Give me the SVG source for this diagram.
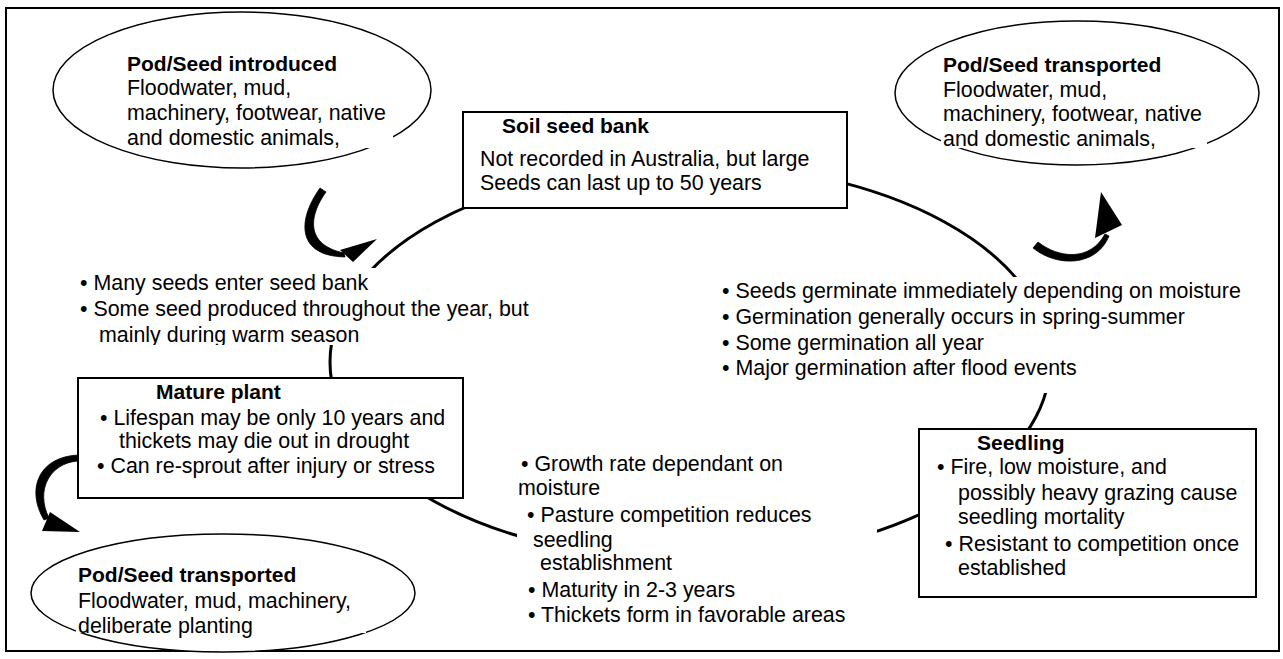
<svg xmlns="http://www.w3.org/2000/svg" width="1283" height="659" viewBox="0 0 1283 659">
<style>
text{font-family:"Liberation Sans",Arial,sans-serif;font-size:21.4px;fill:#000}
.b{font-weight:bold;font-size:21px}
.box{fill:#fff;stroke:#000;stroke-width:2}
.ell{fill:#fff;stroke:#000;stroke-width:1.5}
.mask{fill:#fff;stroke:none}
.cyc{fill:none;stroke:#000;stroke-width:3}
.arr{fill:#000;stroke:#000;stroke-width:0.8}
.head{fill:#000;stroke:none}
</style>
<defs>
<clipPath id="clipMany"><rect x="70" y="260" width="470" height="85"/></clipPath>
</defs>
<rect id="frame" x="6" y="8" width="1273" height="643" fill="#fff" stroke="#000" stroke-width="2"/>
<g id="connectors">
<ellipse class="cyc" cx="690" cy="362" rx="360" ry="198"/>
<path class="arr" d="M320,188 L326,192 C308,217 306,245 344,253 L345,257 C298,256 296,222 320,188 Z"/>
<polygon class="head" points="377,239 340,250 353,262"/>
<path class="arr" d="M1033,248 L1038,242 C1058,258 1090,262 1105,234 L1109,236 C1097,266 1058,268 1033,248 Z"/>
<polygon class="head" points="1101,192 1095,238 1122,225"/>
<path class="arr" d="M78,455 L78,461 C50,463 35,490 49,518 L44,520 C26,490 38,457 78,455 Z"/>
<polygon class="head" points="80,532 42,531 50,512"/>
</g>
<g id="introduced">
<ellipse class="ell" cx="242" cy="90" rx="189" ry="78"/>
<rect class="mask" x="125" y="52" width="268" height="96"/>
<text x="127" y="71" class="b">Pod/Seed introduced</text>
<text x="127" y="95">Floodwater, mud,</text>
<text x="127" y="120">machinery, footwear, native</text>
<text x="127" y="145">and domestic animals,</text>
</g>
<g id="transported-top">
<ellipse class="ell" cx="1077" cy="93" rx="182" ry="72"/>
<rect class="mask" x="941" y="52" width="266" height="96"/>
<text x="943" y="72" class="b">Pod/Seed transported</text>
<text x="943" y="97">Floodwater, mud,</text>
<text x="943" y="121">machinery, footwear, native</text>
<text x="943" y="146">and domestic animals,</text>
</g>
<g id="soil-seed-bank">
<rect class="box" x="463" y="112" width="384" height="96"/>
<text x="502" y="133" class="b">Soil seed bank</text>
<text x="480" y="166">Not recorded in Australia, but large</text>
<text x="480" y="190">Seeds can last up to 50 years</text>
</g>
<g id="seed-production">
<rect class="mask" x="75" y="268" width="460" height="77"/>
<g clip-path="url(#clipMany)">
<text x="80" y="290">• Many seeds enter seed bank</text>
<text x="80" y="316">• Some seed produced throughout the year, but</text>
<text x="99" y="342">mainly during warm season</text>
</g>
</g>
<g id="germination">
<rect class="mask" x="715" y="277" width="535" height="116"/>
<text x="722" y="298">• Seeds germinate immediately depending on moisture</text>
<text x="722" y="324">• Germination generally occurs in spring-summer</text>
<text x="722" y="350">• Some germination all year</text>
<text x="722" y="375">• Major germination after flood events</text>
</g>
<g id="mature-plant">
<rect class="box" x="78" y="378" width="385" height="120"/>
<text x="156" y="399" class="b">Mature plant</text>
<text x="100" y="425">• Lifespan may be only 10 years and</text>
<text x="119" y="448">thickets may die out in drought</text>
<text x="97" y="473">• Can re-sprout after injury or stress</text>
</g>
<g id="seedling">
<rect class="box" x="919" y="429" width="337" height="168"/>
<text x="977" y="450" class="b">Seedling</text>
<text x="937" y="474">• Fire, low moisture, and</text>
<text x="958" y="500">possibly heavy grazing cause</text>
<text x="958" y="524">seedling mortality</text>
<text x="945" y="551">• Resistant to competition once</text>
<text x="958" y="575">established</text>
</g>
<g id="growth">
<rect class="mask" x="517" y="455" width="360" height="185"/>
<text x="521" y="471">• Growth rate dependant on</text>
<text x="518" y="495">moisture</text>
<text x="527" y="522">• Pasture competition reduces</text>
<text x="533" y="547">seedling</text>
<text x="540" y="570">establishment</text>
<text x="528" y="597">• Maturity in 2-3 years</text>
<text x="528" y="622">• Thickets form in favorable areas</text>
</g>
<g id="transported-bottom">
<ellipse class="ell" cx="223" cy="593" rx="192" ry="59"/>
<rect class="mask" x="76" y="560" width="290" height="73"/>
<text x="78" y="582" class="b">Pod/Seed transported</text>
<text x="78" y="608">Floodwater, mud, machinery,</text>
<text x="78" y="633">deliberate planting</text>
</g>
</svg>
